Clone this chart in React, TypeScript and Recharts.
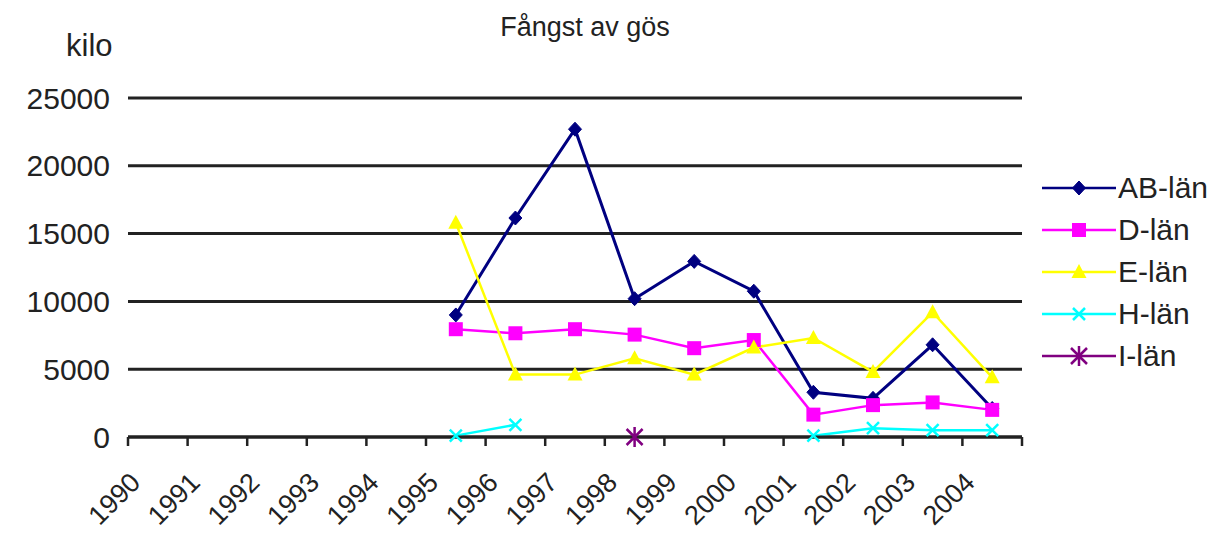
import React from "react";
import { LineChart, Line, XAxis, YAxis, CartesianGrid } from "recharts";

const YEARS = ["1990", "1991", "1992", "1993", "1994", "1995", "1996", "1997", "1998", "1999", "2000", "2001", "2002", "2003", "2004"];
const AB_LAN = [null, null, null, null, null, 9000, 16150, 22700, 10200, 12950, 10750, 3300, 2850, 6800, 2100];
const D_LAN = [null, null, null, null, null, 7950, 7650, 7950, 7550, 6550, 7150, 1650, 2350, 2550, 2000];
const E_LAN = [null, null, null, null, null, 15800, 4600, 4600, 5800, 4600, 6600, 7300, 4800, 9200, 4400];
const H_LAN = [null, null, null, null, null, 100, 900, null, null, null, null, 100, 650, 500, 500];
const I_LAN = [null, null, null, null, null, null, null, null, 0, null, null, null, null, null, null];
const Y_TICKS = [0, 5000, 10000, 15000, 20000, 25000];

const FONT = "Arial, 'Liberation Sans', sans-serif";
const INK = "#222";

// band index + 0.5 puts each year in the middle of its slot, ticks sit on the slot edges
const data = YEARS.map((year, i) => ({
  x: i + 0.5,
  year,
  ab: AB_LAN[i],
  d: D_LAN[i],
  e: E_LAN[i],
  h: H_LAN[i],
  i: I_LAN[i],
}));

type Shape = "diamond" | "square" | "triangle" | "cross" | "star";

function Marker({ shape, cx, cy, color }: { shape: Shape; cx: number; cy: number; color: string }) {
  switch (shape) {
    case "diamond":
      return <path d={`M${cx},${cy - 7}L${cx + 6.5},${cy}L${cx},${cy + 7}L${cx - 6.5},${cy}Z`} fill={color} stroke={color} />;
    case "square":
      return <rect x={cx - 7} y={cy - 7} width={14} height={14} fill={color} />;
    case "triangle":
      return <path d={`M${cx},${cy - 8}L${cx + 7.5},${cy + 6}L${cx - 7.5},${cy + 6}Z`} fill={color} />;
    case "cross":
      return (
        <path d={`M${cx - 6},${cy - 6}L${cx + 6},${cy + 6}M${cx + 6},${cy - 6}L${cx - 6},${cy + 6}`} stroke={color} strokeWidth={2.5} />
      );
    case "star":
      return (
        <path
          d={`M${cx - 8},${cy - 8}L${cx + 8},${cy + 8}M${cx + 8},${cy - 8}L${cx - 8},${cy + 8}M${cx},${cy - 10}L${cx},${cy + 10}`}
          stroke={color}
          strokeWidth={2.5}
        />
      );
  }
}

const dotFor = (shape: Shape, color: string) => (props: any) => {
  const { cx, cy, index, value } = props;
  if (cy == null || value == null || isNaN(cy)) return <g key={index} />;
  return (
    <g key={index}>
      <Marker shape={shape} cx={cx} cy={cy} color={color} />
    </g>
  );
};

const SERIES: { key: string; name: string; color: string; shape: Shape }[] = [
  { key: "ab", name: "AB-län", color: "#000080", shape: "diamond" },
  { key: "d", name: "D-län", color: "#ff00ff", shape: "square" },
  { key: "e", name: "E-län", color: "#ffff00", shape: "triangle" },
  { key: "h", name: "H-län", color: "#00ffff", shape: "cross" },
  { key: "i", name: "I-län", color: "#800080", shape: "star" },
];

const XTick = (props: any) => {
  const { x, y, payload } = props;
  const label = YEARS[payload.value];
  if (label === undefined) return <g />;
  const ax = x + 14;
  const ay = y + 36;
  return (
    <text x={ax} y={ay} textAnchor="end" transform={`rotate(-45 ${ax} ${ay})`} fontSize={27} fill={INK} fontFamily={FONT}>
      {label}
    </text>
  );
};

const LegendBox = () => (
  <div style={{ position: "absolute", left: 1040, top: 167, fontFamily: FONT, fontSize: 30, color: INK }}>
    {SERIES.map((s) => (
      <div key={s.key} style={{ display: "flex", alignItems: "center", height: 42 }}>
        <svg width={78} height={30}>
          <line x1={2} y1={15} x2={76} y2={15} stroke={s.color} strokeWidth={2.5} />
          <Marker shape={s.shape} cx={39} cy={15} color={s.color} />
        </svg>
        <span>{s.name}</span>
      </div>
    ))}
  </div>
);

export default function App() {
  return (
    <div style={{ position: "absolute", left: 0, top: 0, width: 1222, height: 534, background: "#fff", fontFamily: FONT }}>
      <div style={{ position: "absolute", left: 0, width: 1170, top: 12, textAlign: "center", fontSize: 27, color: INK }}>
        Fångst av gös
      </div>
      <div style={{ position: "absolute", left: 66, top: 28, fontSize: 31, color: INK }}>kilo</div>
      <LineChart width={1222} height={534} data={data} margin={{ top: 98, right: 200, bottom: 0, left: 0 }}>
        <CartesianGrid horizontal vertical={false} stroke={INK} strokeWidth={3} />
        <XAxis
          dataKey="x"
          type="number"
          domain={[0, 15]}
          ticks={Array.from({ length: 16 }, (_, i) => i)}
          interval={0}
          tick={<XTick />}
          tickSize={9}
          tickLine={{ stroke: INK, strokeWidth: 2.5 }}
          axisLine={{ stroke: INK, strokeWidth: 3 }}
          height={97}
        />
        <YAxis
          type="number"
          domain={[0, 25000]}
          ticks={Y_TICKS}
          interval={0}
          width={128}
          axisLine={false}
          tickLine={false}
          tickMargin={12}
          tick={{ fontSize: 30, fill: INK, fontFamily: FONT }}
        />
        {SERIES.map((s) => (
          <Line
            key={s.key}
            dataKey={s.key}
            name={s.name}
            stroke={s.color}
            strokeWidth={s.key === "ab" ? 3 : 2.5}
            dot={dotFor(s.shape, s.color)}
            activeDot={false}
            isAnimationActive={false}
            type="linear"
          />
        ))}
      </LineChart>
      <LegendBox />
    </div>
  );
}
